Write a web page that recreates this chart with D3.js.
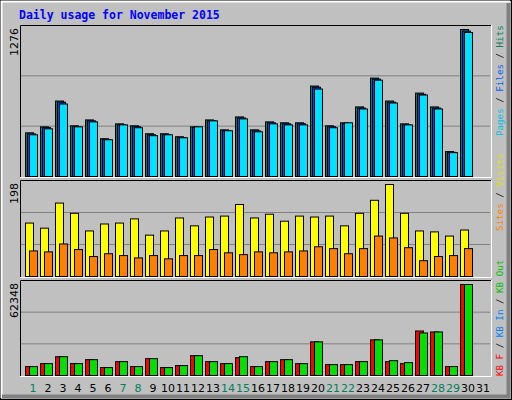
<!DOCTYPE html>
<html><head><meta charset="utf-8">
<script src="https://cdn.jsdelivr.net/npm/d3@7"></script>
<style>body{margin:0;background:#fff}</style>
</head><body>
<div class="chart"></div>
<script>
var days = d3.range(1, 32);
var weekends = [1, 7, 8, 14, 15, 21, 22, 28, 29];

var hits  = [379,431,655,440,491,328,457,440,371,371,345,431,491,405,517,405,474,466,466,785,440,466,604,854,655,457,724,604,216,1276,0];
var files = [370,424,645,432,483,320,450,432,362,364,338,424,484,398,508,396,466,458,458,775,432,458,594,845,645,448,714,594,210,1262,0];
var pages = [362,414,629,431,474,319,448,423,354,362,336,431,483,397,500,388,457,448,448,759,423,466,586,836,638,448,707,586,207,1250,0];

var visits = [115,104,158,136,98,113,115,124,89,98,126,109,128,130,155,126,134,119,130,128,130,109,136,164,198,136,98,96,87,100,0];
var sites  = [55,53,70,58,43,49,45,40,45,38,45,45,58,51,47,53,51,53,55,64,60,49,60,87,83,62,34,43,45,60,0];

var kbF   = [6100,8130,12880,8130,10840,5420,9490,6100,11520,5420,6780,13550,9490,8130,12200,6100,9490,10840,8130,23040,7450,7450,9490,24400,9500,8130,30500,29820,6100,62348,0];
var kbOut = [6100,8130,12880,8130,10840,5420,9490,6100,11520,5420,6780,13550,9490,8130,12880,6100,9490,10840,8130,23040,7450,7450,9490,24400,10170,8810,29140,29820,6100,62348,0];

var W = 512, H = 400;
var svg = d3.select(".chart").append("svg").attr("width", W).attr("height", H)
    .style("font-family", "DejaVu Sans Mono, monospace");

// background + bevel
svg.append("rect").attr("width", W).attr("height", H).attr("fill", "#C0C0C0");
svg.append("rect").attr("x", 0.5).attr("y", 0.5).attr("width", W - 1).attr("height", H - 1)
    .attr("fill", "none").attr("stroke", "#000");
svg.append("path").attr("d", "M1.5,398 V1.5 H510").attr("stroke", "#fff").attr("stroke-width", 2).attr("fill", "none");
svg.append("path").attr("d", "M2,396.5 H508.5 V3").attr("stroke", "#808080").attr("stroke-width", 4).attr("fill", "none");

svg.append("text").attr("x", 19).attr("y", 19).attr("fill", "#0000FF")
    .attr("font-weight", "bold").attr("font-size", 11.5).text("Daily usage for November 2015");

var x = d3.scaleBand().domain(days).range([25, 490]).paddingInner(0);

function panel(top, bottom, maxTop, max, label) {
    var y = d3.scaleLinear().domain([0, max]).range([bottom, maxTop]);
    var g = svg.append("g");
    var third = (bottom - top) / 3;
    [1, 2].forEach(function (i) {
        g.append("line").attr("x1", 21).attr("x2", 490)
            .attr("y1", top + third * i + 0.5).attr("y2", top + third * i + 0.5)
            .attr("stroke", "#808080");
    });
    g.append("path").attr("d", `M20.5,${bottom + 1} V${top + 0.5} H491`).attr("stroke", "#000").attr("fill", "none");
    g.append("path").attr("d", `M20,${bottom + 1.5} H491.5 V${top}`).attr("stroke", "#fff").attr("fill", "none");
    svg.append("text").attr("transform", `translate(18,${top + 3}) rotate(-90)`)
        .attr("text-anchor", "end").attr("font-size", 11).attr("font-family", "DejaVu Sans, sans-serif")
        .attr("fill", "#000").text(label);
    return y;
}

function bars(data, y, off, color) {
    svg.append("g").selectAll("rect").data(data).enter().filter(d => d > 0)
        .append("rect")
        .attr("x", (d, i) => x(days[data.indexOf(d) === i ? i : i]) + off + 0.5)
        .attr("y", d => y(d) + 0.5)
        .attr("width", 8)
        .attr("height", d => y(0) - y(d))
        .attr("fill", color).attr("stroke", "#000");
}
function barsIdx(data, y, off, color) {
    svg.append("g").selectAll("rect").data(days).enter()
        .filter((d, i) => data[i] > 0)
        .append("rect")
        .attr("x", d => x(d) + off + 0.5)
        .attr("y", d => y(data[d - 1]) + 0.5)
        .attr("width", 8)
        .attr("height", d => y(0) - y(data[d - 1]))
        .attr("fill", color).attr("stroke", "#000");
}

var y1 = panel(25, 176, 29, 1276, "1276");
barsIdx(hits, y1, 0, "#00805C");
barsIdx(files, y1, 2, "#0040FF");
barsIdx(pages, y1, 4, "#00E0FF");

var y2 = panel(180, 276, 184, 198, "198");
barsIdx(visits, y2, 0, "#FFFF00");
barsIdx(sites, y2, 4, "#FF8000");

var y3 = panel(280, 375, 284, 62348, "62348");
barsIdx(kbF, y3, 0, "#FF0000");
barsIdx(kbOut, y3, 4, "#00E000");

// day labels
svg.append("g").selectAll("text").data(days).enter().append("text")
    .attr("x", d => x(d) + 8).attr("y", 392)
    .attr("text-anchor", "middle").attr("font-size", 11)
    .attr("font-family", "DejaVu Sans, sans-serif")
    .attr("fill", d => weekends.indexOf(d) >= 0 ? "#00805C" : "#000")
    .text(d => d);

// right legends
function legend(yEnd, parts) {
    var t = svg.append("text").attr("transform", `translate(503,${yEnd}) rotate(-90)`)
        .attr("font-size", 9.2).attr("text-anchor", "start");
    parts.forEach(function (p, i) {
        if (i > 0) t.append("tspan").attr("fill", "#000").text(" / ");
        t.append("tspan").attr("fill", p[1]).text(p[0]);
    });
}
legend(136, [["Pages", "#00C0E0"], ["Files", "#0060FF"], ["Hits", "#00805C"]]);
legend(231, [["Sites", "#FF8000"], ["Visits", "#E0E000"]]);
legend(376, [["KB F", "#FF0000"], ["KB In", "#0080FF"], ["KB Out", "#00C000"]]);
</script>
</body></html>
